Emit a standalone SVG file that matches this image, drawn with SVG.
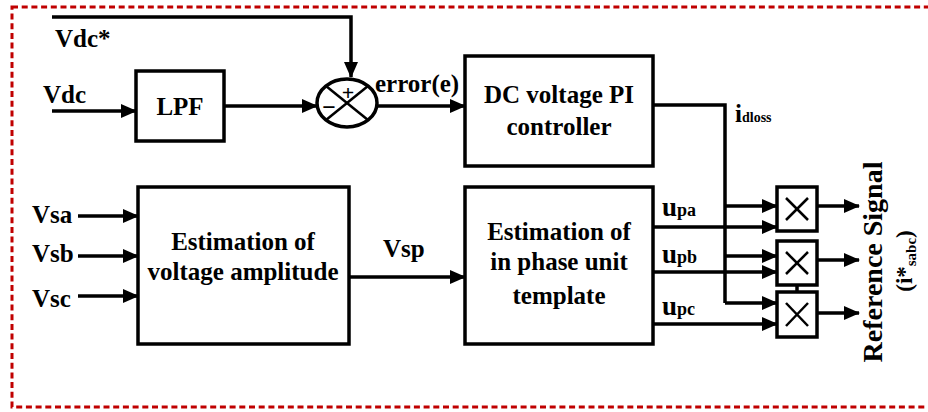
<svg xmlns="http://www.w3.org/2000/svg" width="928" height="412" viewBox="0 0 928 412">
<defs>
<marker id="ah" markerUnits="userSpaceOnUse" markerWidth="16" markerHeight="14" refX="15" refY="7" orient="auto">
<path d="M0,0 L16,7 L0,14 Z" fill="#000"/>
</marker>
<style>
.t{font-family:"Liberation Serif","Times New Roman",serif;font-weight:bold;fill:#000}
.box{fill:#fff;stroke:#000;stroke-width:3.5}
.ln{fill:none;stroke:#000;stroke-width:3.5}
.arr{fill:none;stroke:#000;stroke-width:3.5;marker-end:url(#ah)}
.mx{stroke:#000;stroke-width:2.5}
</style>
</defs>
<rect x="12" y="7" width="940" height="400" fill="none" stroke="#c00000" stroke-width="3" stroke-dasharray="6 3.7"/>

<g id="connectors">
<polyline class="arr" points="52,17 351,17 351,77"/>
<line class="arr" x1="52" y1="111" x2="136" y2="111"/>
<line class="arr" x1="224" y1="106" x2="317" y2="106"/>
<line class="arr" x1="378" y1="106" x2="465" y2="106"/>
<polyline class="ln" points="653,105 725,105 725,303"/>
<line class="arr" x1="725" y1="206" x2="777" y2="206"/>
<line class="arr" x1="725" y1="256" x2="777" y2="256"/>
<line class="arr" x1="725" y1="303" x2="777" y2="303"/>
<line class="arr" x1="653" y1="227" x2="777" y2="227"/>
<line class="arr" x1="653" y1="272" x2="777" y2="272"/>
<line class="arr" x1="653" y1="324" x2="777" y2="324"/>
<line class="arr" x1="78" y1="216" x2="138" y2="216"/>
<line class="arr" x1="78" y1="256" x2="138" y2="256"/>
<line class="arr" x1="78" y1="296" x2="138" y2="296"/>
<line class="arr" x1="349" y1="277" x2="465" y2="277"/>
<line class="arr" x1="817" y1="206" x2="859" y2="206"/>
<line class="arr" x1="817" y1="260" x2="859" y2="260"/>
<line class="arr" x1="817" y1="313" x2="859" y2="313"/>
<line class="ln" x1="797" y1="285" x2="797" y2="292" stroke-width="2.5"/>
</g>

<g id="labels">
<text class="t" x="55" y="47" font-size="25">Vdc*</text>
<text class="t" x="43" y="103" font-size="25">Vdc</text>
<text class="t" x="375" y="92" font-size="25">error(e)</text>
<text class="t" x="735" y="122" font-size="25">i<tspan font-size="14">dloss</tspan></text>
<text class="t" x="32" y="223" font-size="25">Vsa</text>
<text class="t" x="32" y="262" font-size="25">Vsb</text>
<text class="t" x="32" y="307" font-size="25">Vsc</text>
<text class="t" x="383" y="257" font-size="25">Vsp</text>
<text class="t" x="662" y="216" font-size="27">u<tspan font-size="18">pa</tspan></text>
<text class="t" x="662" y="263" font-size="27">u<tspan font-size="18">pb</tspan></text>
<text class="t" x="662" y="315" font-size="27">u<tspan font-size="18">pc</tspan></text>
<text class="t" font-size="28" text-anchor="middle" transform="translate(882,262) rotate(-90)">Reference Signal</text>
<text class="t" font-size="23" text-anchor="middle" transform="translate(912,261) rotate(-90)">(i*<tspan font-size="15" dy="4">sabc</tspan><tspan dy="-4">)</tspan></text>
</g>

<g id="lpf">
<rect class="box" x="136" y="71" width="88" height="70"/>
<text class="t" x="180" y="115" font-size="25" text-anchor="middle">LPF</text>
</g>

<g id="sum">
<ellipse cx="347" cy="103" rx="30" ry="24" fill="#fff" stroke="#000" stroke-width="3.5"/>
<line class="mx" x1="326" y1="86" x2="368" y2="120"/>
<line class="mx" x1="368" y1="86" x2="326" y2="120"/>
<text class="t" x="348" y="100" font-size="22" text-anchor="middle">+</text>
<text class="t" x="329" y="115" font-size="24" text-anchor="middle">−</text>
</g>

<g id="pi">
<rect class="box" x="465" y="56" width="188" height="110"/>
<text class="t" x="559" y="103" font-size="25" text-anchor="middle">DC voltage PI</text>
<text class="t" x="559" y="135" font-size="25" text-anchor="middle">controller</text>
</g>

<g id="amp">
<rect class="box" x="138" y="187" width="211" height="157"/>
<text class="t" x="243" y="250" font-size="25" text-anchor="middle">Estimation of</text>
<text class="t" x="243" y="280" font-size="25" text-anchor="middle">voltage amplitude</text>
</g>

<g id="template">
<rect class="box" x="465" y="187" width="188" height="157"/>
<text class="t" x="559" y="240" font-size="25" text-anchor="middle">Estimation of</text>
<text class="t" x="559" y="270" font-size="25" text-anchor="middle">in phase unit</text>
<text class="t" x="559" y="304" font-size="25" text-anchor="middle">template</text>
</g>

<g id="mult1">
<rect class="box" x="777" y="187" width="40" height="44"/>
<line class="mx" x1="786" y1="198" x2="808" y2="220"/>
<line class="mx" x1="808" y1="198" x2="786" y2="220"/>
</g>
<g id="mult2">
<rect class="box" x="777" y="241" width="40" height="44"/>
<line class="mx" x1="786" y1="252" x2="808" y2="274"/>
<line class="mx" x1="808" y1="252" x2="786" y2="274"/>
</g>
<g id="mult3">
<rect class="box" x="777" y="292" width="40" height="45"/>
<line class="mx" x1="786" y1="303" x2="808" y2="326"/>
<line class="mx" x1="808" y1="303" x2="786" y2="326"/>
</g>
</svg>
